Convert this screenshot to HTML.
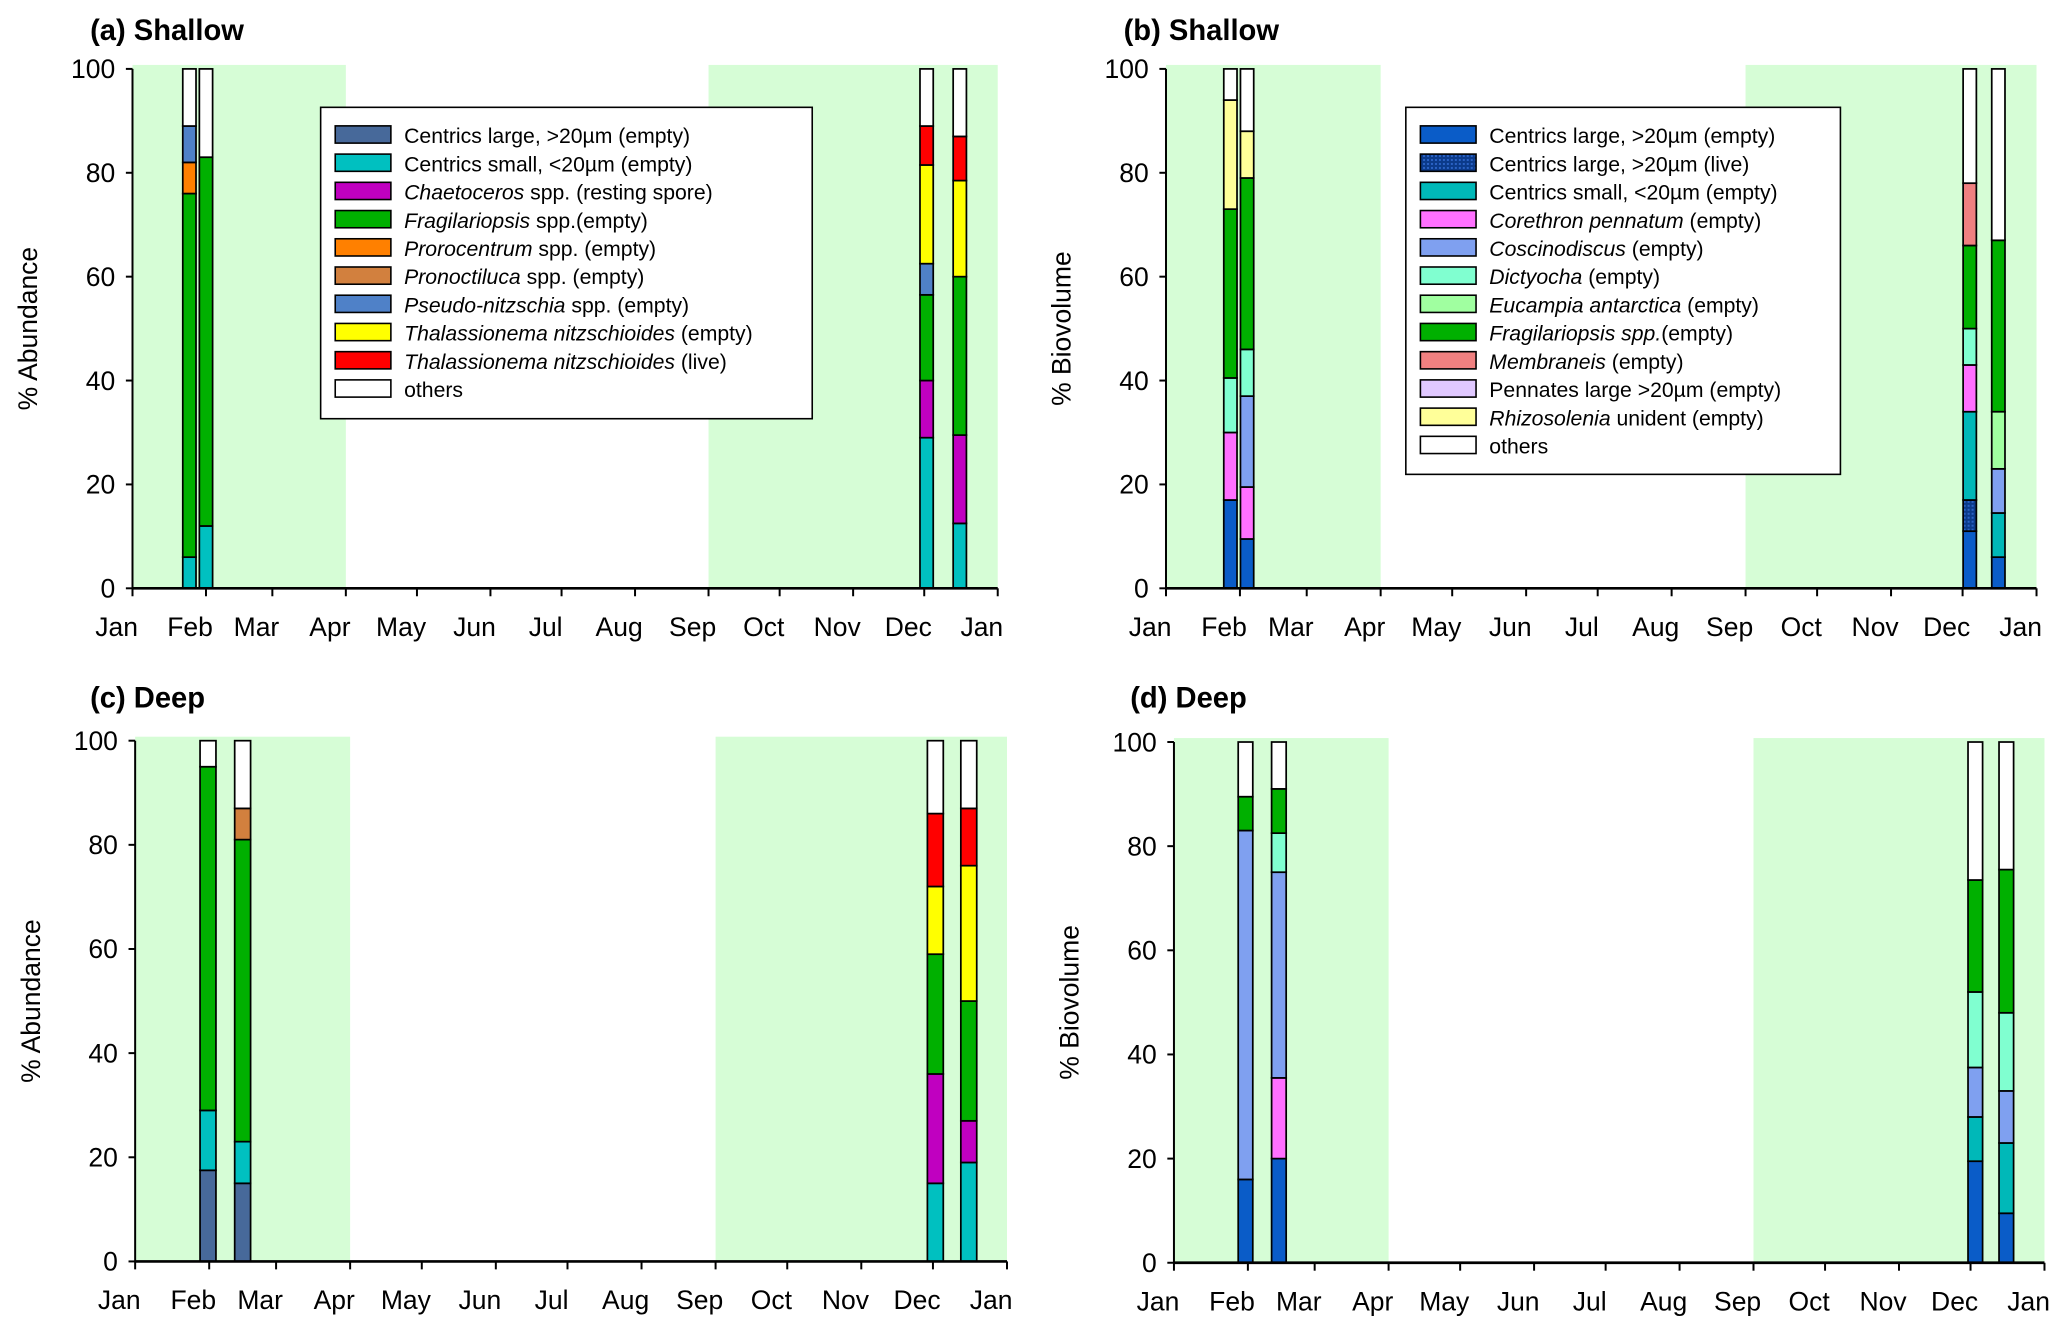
<!DOCTYPE html>
<html><head><meta charset="utf-8"><style>
html,body{margin:0;padding:0;background:#fff;}
svg{display:block;}
text{font-family:"Liberation Sans",sans-serif;}
</style></head><body>
<svg id="fig" width="2067" height="1329" viewBox="0 0 1560 1003" preserveAspectRatio="none" xmlns="http://www.w3.org/2000/svg">
<defs>
<pattern id="hatch" width="3" height="3" patternUnits="userSpaceOnUse"><rect width="3" height="3" fill="#0b3a8a"/><rect width="1.5" height="1.5" fill="#2a62c4"/></pattern>
</defs>
</svg>
<script>
const months = ["Jan","Feb","Mar","Apr","May","Jun","Jul","Aug","Sep","Oct","Nov","Dec","Jan"];
const monthDays = [0,31,59,90,120,151,181,212,243,273,304,334,365];
const yTicks = [0,20,40,60,80,100];
const greenSeasons = [[0,90],[243,365]];

const colorsA = {cl:"#47699a",cs:"#00c0c0",ch:"#c000c0",fr:"#00b000",pr:"#ff8000",pn:"#d2803e",ps:"#4f81c8",te:"#ffff00",tl:"#ff0000",ot:"#ffffff"};
const colorsB = {cl:"#0a5cc8",cll:"url(#hatch)",cs:"#00b8b8",co:"#ff70ff",cc:"#7fa0f0",di:"#80ffd0",eu:"#a0ffa0",fr:"#00b000",me:"#f08080",pe:"#e0c8ff",rh:"#ffff99",ot:"#ffffff"};

const legendA = [["cl","Centrics large, >20µm (empty)",""],["cs","Centrics small, <20µm (empty)",""],["ch","Chaetoceros"," spp. (resting spore)"],["fr","Fragilariopsis"," spp.(empty)"],["pr","Prorocentrum"," spp. (empty)"],["pn","Pronoctiluca"," spp. (empty)"],["ps","Pseudo-nitzschia"," spp. (empty)"],["te","Thalassionema nitzschioides"," (empty)"],["tl","Thalassionema nitzschioides"," (live)"],["ot","others",""]];
const legendB = [["cl","Centrics large, >20µm (empty)",""],["cll","Centrics large, >20µm (live)",""],["cs","Centrics small, <20µm (empty)",""],["co","Corethron pennatum"," (empty)"],["cc","Coscinodiscus"," (empty)"],["di","Dictyocha"," (empty)"],["eu","Eucampia antarctica"," (empty)"],["fr","Fragilariopsis spp.","(empty)"],["me","Membraneis"," (empty)"],["pe","Pennates large >20µm (empty)",""],["rh","Rhizosolenia"," unident (empty)"],["ot","others",""]];
const italicKeysA = ["ch","fr","pr","pn","ps","te","tl"];
const italicKeysB = ["co","cc","di","eu","fr","me","rh"];

// bar dates (day of year) per panel
const datesA = [24,31,335,349];
const datesB = [27,34,337,349];
const datesC = [30.5,45,335,349];
const datesD = [30,44,336,349];

// stacked segments [key, value] bottom to top
const barsA = [
 [["cs",6],["fr",70],["pr",6],["ps",7],["ot",11]],
 [["cs",12],["fr",71],["ot",17]],
 [["cs",29],["ch",11],["fr",16.5],["ps",6],["te",19],["tl",7.5],["ot",11]],
 [["cs",12.5],["ch",17],["fr",30.5],["te",18.5],["tl",8.5],["ot",13]]
];
const barsB = [
 [["cl",17],["co",13],["di",10.5],["fr",32.5],["rh",21],["ot",6]],
 [["cl",9.5],["co",10],["cc",17.5],["di",9],["fr",33],["rh",9],["ot",12]],
 [["cl",11],["cll",6],["cs",17],["co",9],["di",7],["fr",16],["me",12],["ot",22]],
 [["cl",6],["cs",8.5],["cc",8.5],["eu",11],["fr",33],["ot",33]]
];
const barsC = [
 [["cl",17.5],["cs",11.5],["fr",66],["ot",5]],
 [["cl",15],["cs",8],["fr",58],["pn",6],["ot",13]],
 [["cs",15],["ch",21],["fr",23],["te",13],["tl",14],["ot",14]],
 [["cs",19],["ch",8],["fr",23],["te",26],["tl",11],["ot",13]]
];
const barsD = [
 [["cl",16],["cc",67],["fr",6.5],["ot",10.5]],
 [["cl",20],["co",15.5],["cc",39.5],["di",7.5],["fr",8.5],["ot",9]],
 [["cl",19.5],["cs",8.5],["cc",9.5],["di",14.5],["fr",21.5],["ot",26.5]],
 [["cl",9.5],["cs",13.5],["cc",10],["di",15],["fr",27.5],["ot",24.5]]
];

const NS="http://www.w3.org/2000/svg";
const svg=document.getElementById('fig');
function mk(tag,attrs,parent){const e=document.createElementNS(NS,tag);for(const k in attrs)e.setAttribute(k,attrs[k]);(parent||svg).appendChild(e);return e;}

const panels=[
 {id:"a",title:"(a) Shallow",ylab:"% Abundance",x0:100,x1:753,yTop:52,yBot:444,dates:datesA,bars:barsA,colors:colorsA,bw:10,tx:68,ty:30,legend:legendA,ital:italicKeysA,lg:[242,81,371,235]},
 {id:"b",title:"(b) Shallow",ylab:"% Biovolume",x0:880,x1:1537,yTop:52,yBot:444,dates:datesB,bars:barsB,colors:colorsB,bw:10,tx:848,ty:30,legend:legendB,ital:italicKeysB,lg:[1061,81,328,277]},
 {id:"c",title:"(c) Deep",ylab:"% Abundance",x0:102,x1:760,yTop:559,yBot:952,dates:datesC,bars:barsC,colors:colorsA,bw:12,tx:68,ty:534,legend:null},
 {id:"d",title:"(d) Deep",ylab:"% Biovolume",x0:886,x1:1543,yTop:560,yBot:953,dates:datesD,bars:barsD,colors:colorsB,bw:11,tx:853,ty:534,legend:null}
];

panels.forEach(p=>{
 const g=mk('g',{});
 
 
 const X=d=>p.x0+d/365*(p.x1-p.x0);
 const Y=v=>p.yBot-v/100*(p.yBot-p.yTop);
 greenSeasons.forEach((s,i)=>{
  const r=mk('rect',{x:X(s[0]),y:p.yTop-3,width:X(s[1])-X(s[0]),height:p.yBot-p.yTop+3,fill:"#d6fdd6"},g);
  
  
 });
 const t=mk('text',{x:p.tx,y:p.ty,"font-size":22,"font-weight":"bold"},g);t.textContent=p.title;
 
 
 const yl=mk('text',{x:0,y:0,"font-size":20,"text-anchor":"middle",transform:`translate(${p.x0-72},${(p.yTop+p.yBot)/2}) rotate(-90)`},g);yl.textContent=p.ylab;
 
 
 // bars
 p.bars.forEach((bar,bi)=>{
  let cum=0;const cx=X(p.dates[bi]);
  bar.forEach(seg=>{
   const y1=Y(cum+seg[1]),y0=Y(cum);
   const r=mk('rect',{x:cx-p.bw/2,y:y1,width:p.bw,height:y0-y1,fill:p.colors[seg[0]],stroke:"#000","stroke-width":1.3},g);
   
   
   cum+=seg[1];
  });
 });
 // axes
 mk('line',{x1:p.x0,y1:p.yTop,x2:p.x0,y2:p.yBot,stroke:"#000","stroke-width":1.5},g);
 mk('line',{x1:p.x0,y1:p.yBot,x2:p.x1,y2:p.yBot,stroke:"#000","stroke-width":2},g);
 yTicks.forEach(v=>{
  mk('line',{x1:p.x0-5,y1:Y(v),x2:p.x0,y2:Y(v),stroke:"#000","stroke-width":1.5},g);
  const tl=mk('text',{x:p.x0-13,y:Y(v)+7,"font-size":20,"text-anchor":"end"},g);tl.textContent=v;
  
  
 });
 months.forEach((m,i)=>{
  const x=X(monthDays[i]);
  mk('line',{x1:x,y1:p.yBot,x2:x,y2:p.yBot+6,stroke:"#000","stroke-width":1.5},g);
  const tl=mk('text',{x:x-12,y:p.yBot+36,"font-size":20,"text-anchor":"middle"},g);tl.textContent=m;
  
  
 });
 if(p.legend){
  const lg=mk('g',{},g);
  
  
  mk('rect',{x:p.lg[0],y:p.lg[1],width:p.lg[2],height:p.lg[3],fill:"#fff",stroke:"#000","stroke-width":1.2},lg);
  p.legend.forEach((e,i)=>{
   const yy=p.lg[1]+21+i*21.3;
   const it=mk('g',{},lg);
   
   
   mk('rect',{x:p.lg[0]+11,y:yy-7,width:42,height:13,fill:p.colors[e[0]],stroke:"#000","stroke-width":1.2},it);
   const tx=mk('text',{x:p.lg[0]+63,y:yy+6,"font-size":16},it);
   const s1=mk('tspan',{},tx);s1.textContent=e[1];
   if(p.ital.includes(e[0]))s1.setAttribute('font-style','italic');
   if(e[2]){const s2=mk('tspan',{},tx);s2.textContent=e[2];}
  });
 }
});
</script>
</body></html>
